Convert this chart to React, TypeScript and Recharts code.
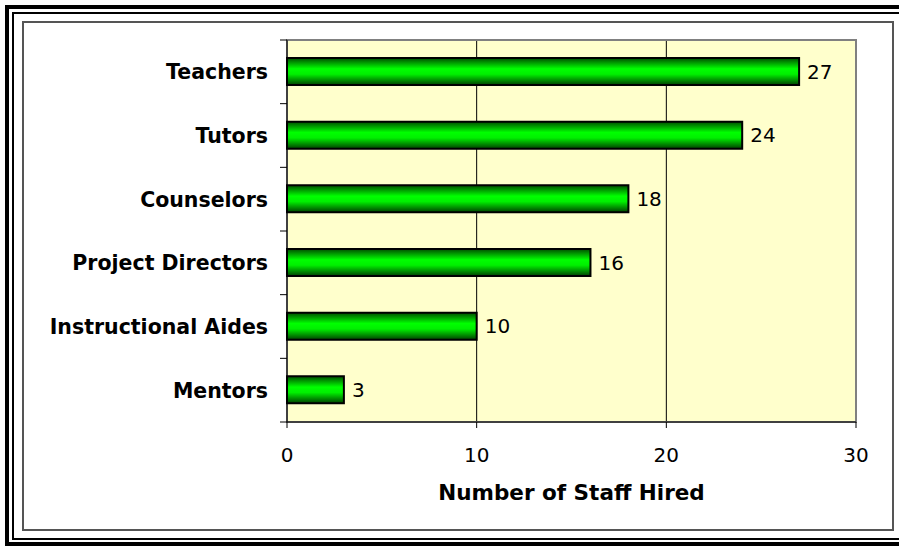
import React from 'react';
import {
  BarChart,
  Bar,
  XAxis,
  YAxis,
  CartesianGrid,
  ReferenceArea,
  LabelList,
} from 'recharts';

// staff roles, top to bottom as in the chart
const roles = [
  'Teachers',
  'Tutors',
  'Counselors',
  'Project Directors',
  'Instructional Aides',
  'Mentors',
];
const hired = [27, 24, 18, 16, 10, 3];
const xTicks = [0, 10, 20, 30];

const data = roles.map((role, i) => ({ role, hired: hired[i] }));

const FONT = '"DejaVu Sans", Verdana, sans-serif';

const W = 899;
const H = 546;
const M = { top: 40, right: 43, bottom: 44, left: 286 };
const X_AXIS_H = 80;
const TICK = 7;
const GAP = 12;
// height of one category band, used for the tick marks between categories
const BAND = (H - M.top - M.bottom - X_AXIS_H) / roles.length;

// category label plus Excel-style tick marks at the band edges
const RoleTick = (props: any) => {
  const { x, y, payload, index } = props;
  const axisX = x + TICK + GAP;
  const half = BAND / 2;
  return (
    <g>
      <line x1={axisX - TICK} x2={axisX} y1={y - half} y2={y - half} stroke="#000" />
      {index === roles.length - 1 && (
        <line x1={axisX - TICK} x2={axisX} y1={y + half} y2={y + half} stroke="#000" />
      )}
      <text
        x={x}
        y={y}
        dy="0.36em"
        textAnchor="end"
        fontFamily={FONT}
        fontSize={20.5}
        fontWeight="bold"
        fill="#000"
      >
        {payload.value}
      </text>
    </g>
  );
};

const App: React.FC = () => {
  return (
    <div
      style={{
        position: 'absolute',
        left: 0,
        top: 0,
        width: W,
        height: H,
        overflow: 'hidden',
        background: '#fff',
      }}
    >
      {/* double frame, cut off at right and bottom like the original */}
      <div
        style={{
          position: 'absolute',
          left: 5,
          top: 5,
          width: 900,
          height: 533,
          border: '4px solid #000',
        }}
      />
      <div
        style={{
          position: 'absolute',
          left: 12,
          top: 12,
          width: 900,
          height: 524,
          border: '2px solid #000',
        }}
      />
      <div
        style={{
          position: 'absolute',
          left: 22,
          top: 21,
          width: 868,
          height: 506,
          border: '2px solid #555',
        }}
      />
      <div style={{ position: 'absolute', left: 0, top: 0 }}>
        <BarChart width={W} height={H} data={data} layout="vertical" margin={M}>
          <defs>
            <linearGradient id="greenBar" x1="0" y1="0" x2="0" y2="1">
              <stop offset="0%" stopColor="#004d00" />
              <stop offset="40%" stopColor="#00ff00" />
              <stop offset="60%" stopColor="#00f000" />
              <stop offset="100%" stopColor="#004000" />
            </linearGradient>
          </defs>
          <CartesianGrid fill="#FFFFCC" horizontal={false} stroke="#000" strokeWidth={1} />
          <ReferenceArea
            x1={0}
            x2={30}
            yAxisId="cat"
            fill="none"
            stroke="#808080"
            strokeWidth={2}
          />
          <XAxis
            type="number"
            domain={[0, 30]}
            ticks={xTicks}
            height={X_AXIS_H}
            tickSize={6}
            tickMargin={20}
            axisLine={{ stroke: '#000' }}
            tickLine={{ stroke: '#000' }}
            tick={{ fontFamily: FONT, fontSize: 20, fill: '#000' }}
            label={{
              value: 'Number of Staff Hired',
              position: 'insideBottom',
              offset: 2,
              style: { fontFamily: FONT, fontSize: 21.5, fontWeight: 'bold', fill: '#000' },
            }}
          />
          <YAxis
            yAxisId="cat"
            type="category"
            dataKey="role"
            width={1}
            interval={0}
            tickLine={false}
            tickSize={TICK}
            tickMargin={GAP}
            axisLine={{ stroke: '#000' }}
            tick={<RoleTick />}
          />
          <Bar
            yAxisId="cat"
            dataKey="hired"
            barSize={27}
            fill="url(#greenBar)"
            stroke="#000"
            strokeWidth={2}
            isAnimationActive={false}
          >
            <LabelList
              dataKey="hired"
              position="right"
              offset={8}
              style={{ fontFamily: FONT, fontSize: 20, fill: '#000' }}
            />
          </Bar>
        </BarChart>
      </div>
    </div>
  );
};

export default App;
